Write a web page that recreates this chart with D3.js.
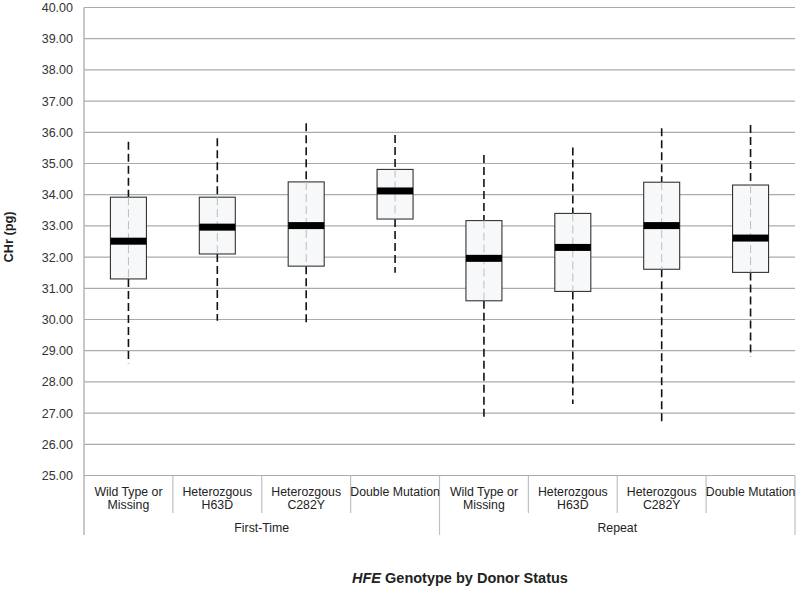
<!DOCTYPE html>
<html>
<head>
<meta charset="utf-8">
<script src="https://cdn.jsdelivr.net/npm/d3@7"></script>
<style>
  html, body { margin: 0; padding: 0; background: #fff; }
  svg { display: block; font-family: "Liberation Sans", Arial, sans-serif; }
</style>
</head>
<body>
<svg id="chart" width="800" height="592"></svg>
<script>
// ---- data ----
const groups = ["First-Time", "Repeat"];
const genotypes = [["Wild Type or", "Missing"], ["Heterozgous", "H63D"], ["Heterozgous", "C282Y"], ["Double Mutation"]];
const whiskerLow  = [28.60, 29.96, 29.82, 31.50, 26.88, 27.29, 26.69, 28.81];
const q1          = [31.30, 32.10, 31.71, 33.22, 30.60, 30.90, 31.61, 31.51];
const median      = [32.51, 32.96, 33.01, 34.12, 31.96, 32.31, 33.01, 32.61];
const q3          = [33.92, 33.92, 34.41, 34.81, 33.17, 33.40, 34.40, 34.31];
const whiskerHigh = [35.70, 35.81, 36.29, 35.91, 35.27, 35.51, 36.13, 36.23];
const yTicks = [25, 26, 27, 28, 29, 30, 31, 32, 33, 34, 35, 36, 37, 38, 39, 40];

// ---- layout ----
const svg = d3.select("#chart");
const pLeft = 84, pRight = 795, pTop = 7.5, pBottom = 475.5;

const cats = [];
groups.forEach(g => genotypes.forEach((t, i) => cats.push({ key: g + "|" + i, group: g, label: t })));
const boxes = cats.map((c, i) => ({
  key: c.key, lo: whiskerLow[i], q1: q1[i], med: median[i], q3: q3[i], hi: whiskerHigh[i]
}));

const x = d3.scaleBand().domain(cats.map(c => c.key)).range([pLeft, pRight]).paddingInner(0).paddingOuter(0);
const y = d3.scaleLinear().domain([25, 40]).range([pBottom, pTop]);

// gridlines
svg.append("g").selectAll("line").data(yTicks).join("line")
  .attr("x1", pLeft).attr("x2", pRight)
  .attr("y1", d => y(d)).attr("y2", d => y(d))
  .attr("stroke", "#ababab").attr("stroke-width", 1.2);

// y axis labels
const yAxis = svg.append("g").attr("transform", `translate(${pLeft},0)`)
  .call(d3.axisLeft(y).tickValues(yTicks).tickFormat(d3.format(".2f")).tickSize(0).tickPadding(11));
yAxis.select(".domain").remove();
yAxis.selectAll("text").attr("font-size", 12.5).attr("fill", "#333")
  .attr("font-family", "'Liberation Sans', Arial, sans-serif");

// left axis line
svg.append("line").attr("x1", pLeft).attr("x2", pLeft).attr("y1", pTop).attr("y2", 535)
  .attr("stroke", "#b5b5b5").attr("stroke-width", 1.5);

// category separators
const sepG = svg.append("g");
cats.forEach((c, i) => {
  if (i === 0) return;
  const xs = x(c.key);
  const isGroup = i % genotypes.length === 0;
  sepG.append("line").attr("x1", xs).attr("x2", xs).attr("y1", pBottom).attr("y2", isGroup ? 535 : 513)
    .attr("stroke", "#c0c0c0").attr("stroke-width", 1.2);
});
sepG.append("line").attr("x1", pRight).attr("x2", pRight).attr("y1", pBottom).attr("y2", 535)
  .attr("stroke", "#c0c0c0").attr("stroke-width", 1.2);

// category labels
const catLab = svg.append("g").attr("font-size", 12.3).attr("fill", "#222").attr("text-anchor", "middle");
cats.forEach(c => {
  const cx = x(c.key) + x.bandwidth() / 2;
  const t = catLab.append("text").attr("x", cx).attr("y", 495.5);
  c.label.forEach((ln, j) => t.append("tspan").attr("x", cx).attr("dy", j === 0 ? 0 : 13.5).text(ln));
});

// group labels
groups.forEach(g => {
  const keys = cats.filter(c => c.group === g).map(c => c.key);
  const x0 = x(keys[0]), x1 = x(keys[keys.length - 1]) + x.bandwidth();
  svg.append("text").attr("x", (x0 + x1) / 2).attr("y", 532).attr("text-anchor", "middle")
    .attr("font-size", 12.3).attr("fill", "#222").text(g);
});

// boxes
const bw = 36;
const bg = svg.append("g").selectAll("g").data(boxes).join("g")
  .attr("transform", d => `translate(${x(d.key) + x.bandwidth() / 2},0)`);

// whiskers (outside box)
bg.append("line").attr("x1", 0).attr("x2", 0).attr("y1", d => y(d.hi)).attr("y2", d => y(d.q3))
  .attr("stroke", "#111").attr("stroke-width", 1.6).attr("stroke-dasharray", "8,4");
bg.append("line").attr("x1", 0).attr("x2", 0).attr("y1", d => y(d.q1)).attr("y2", d => y(d.lo))
  .attr("stroke", "#111").attr("stroke-width", 1.6).attr("stroke-dasharray", "8,4");

// box
bg.append("rect").attr("x", -bw / 2).attr("width", bw)
  .attr("y", d => y(d.q3)).attr("height", d => y(d.q1) - y(d.q3))
  .attr("fill", "#f7f8fa").attr("stroke", "#333").attr("stroke-width", 1.1);

// light dashed line inside box
bg.append("line").attr("x1", 0).attr("x2", 0).attr("y1", d => y(d.q3)).attr("y2", d => y(d.q1))
  .attr("stroke", "#bdbdbd").attr("stroke-width", 1).attr("stroke-dasharray", "8,4");

// median
bg.append("rect").attr("x", -bw / 2).attr("width", bw)
  .attr("y", d => y(d.med) - 3.5).attr("height", 7).attr("fill", "#000");

// axis titles
svg.append("text").attr("transform", "translate(13,237) rotate(-90)").attr("text-anchor", "middle")
  .attr("font-size", 12.8).attr("font-weight", "bold").attr("fill", "#222").text("CHr (pg)");

const title = svg.append("text").attr("x", 460).attr("y", 583).attr("text-anchor", "middle")
  .attr("font-size", 14.5).attr("font-weight", "bold").attr("fill", "#222");
title.append("tspan").attr("font-style", "italic").text("HFE");
title.append("tspan").text(" Genotype by Donor Status");
</script>
</body>
</html>
